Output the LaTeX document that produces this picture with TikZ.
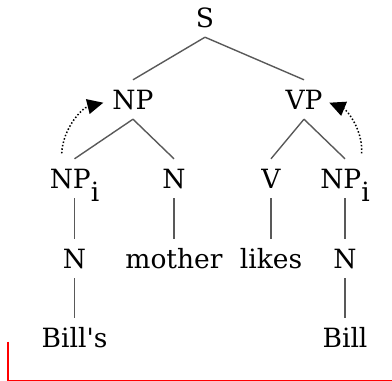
\documentclass[tikz,border=0pt]{standalone}
\usepackage{fontspec}
\setmainfont{DejaVu Serif}
\usetikzlibrary{arrows.meta}
\newcommand{\idx}[1]{\raisebox{-13pt}{#1}}
\newcommand{\sqt}{{\XeTeXglyph\XeTeXglyphindex "quotesingle"\relax}}
\begin{document}
\begin{tikzpicture}[x=1pt,y=-1pt,
  cat/.style={font=\fontsize{26.5}{30}\selectfont, inner sep=0pt, text height=29pt, text depth=10pt, anchor=base},
  branch/.style={draw=black!65, line width=1.4pt},
  move/.style={draw=black, dotted, line width=1.5pt, -{Triangle[length=16pt,width=15pt]}},
  redline/.style={draw=red, line width=1.2pt}
]
\useasboundingbox (0,0) rectangle (392,381);
\node[cat] (s) at (205,27) {S};
\node[cat] (np) at (133,109) {NP};
\node[cat] (vp) at (304,109) {VP};
\node[cat] (npi) at (74.5,188) {NP\idx{i}};
\node[cat] (n1) at (174,188) {N};
\node[cat] (v) at (271,188) {V};
\node[cat] (npii) at (345,188) {NP\idx{i}};
\node[cat] (n2) at (74.5,268) {N};
\node[cat] (mother) at (174,268) {mother};
\node[cat] (likes) at (271,268) {likes};
\node[cat] (n3) at (345,268) {N};
\node[cat] (bills) at (74.5,347) {Bill\sqt s};
\node[cat] (bill) at (345,347) {Bill};
\draw[branch] (s.south) -- (np.north);
\draw[branch] (s.south) -- (vp.north);
\draw[branch] (np.south) -- (npi.north);
\draw[branch] (np.south) -- (n1.north);
\draw[branch] (vp.south) -- (v.north);
\draw[branch] (vp.south) -- (npii.north);
\draw[branch] (npi.south) -- (n2.north);
\draw[branch] (n1.south) -- (mother.north);
\draw[branch] (v.south) -- (likes.north);
\draw[branch] (npii.south) -- (n3.north);
\draw[branch] (n2.south) -- (bills.north);
\draw[branch] (n3.south) -- (bill.north);
\draw[move] ([shift={(-12.8,-34.7)}]npi.base) .. controls (63,128) and (82,108) .. ([shift={(-29.7,-6.3)}]np.base);
\draw[move] ([shift={(16.7,-34.7)}]npii.base) .. controls (363,130) and (347,110) .. ([shift={(25.3,-6.3)}]vp.base);
\coordinate (r1) at (8,341.7);
\coordinate (r2) at (8,380.2);
\coordinate (r3) at (392,380.2);
\draw[redline] (r1) -- (r2) -- (r3);
\end{tikzpicture}
\end{document}
